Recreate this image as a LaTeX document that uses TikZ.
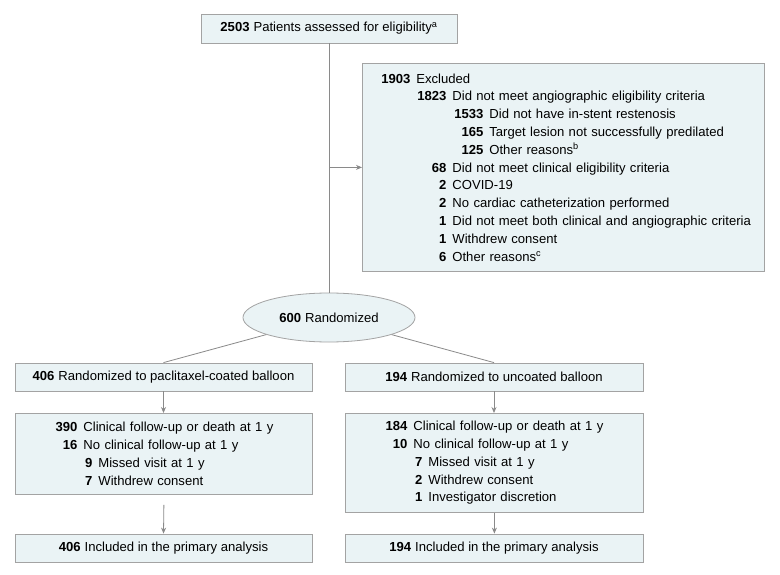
\documentclass[tikz,border=0pt]{standalone}
\usepackage{fontspec}
\setmainfont{Liberation Sans}
\usepackage{tikz}
\usetikzlibrary{shapes.geometric}
\usetikzlibrary{arrows.meta}
\usetikzlibrary{positioning}

\definecolor{boxfill}{HTML}{EAF3F5}
\definecolor{boxline}{HTML}{A3A3A3}
\definecolor{linkline}{HTML}{8A8A8A}

\newcommand{\cnt}[3]{\makebox[#1][r]{\textbf{#2}}\hspace{6pt}#3}

\tikzset{
	every node/.style={font=\fontsize{13.1}{17.8}\selectfont},
	flowbox/.style={draw=boxline, fill=boxfill, line width=0.8pt, inner sep=0pt, minimum height=28pt},
	listbox/.style={flowbox, align=left, anchor=north west},
	link/.style={draw=linkline, line width=0.8pt},
	arr/.style={link, -{Stealth[length=6pt,width=5pt]}}
}

\begin{document}
\begin{tikzpicture}[x=1pt, y=-1pt]
			\useasboundingbox[fill=white] (0,0) rectangle (780,575);
			\node[flowbox, minimum width=256pt, minimum height=29pt] (assess) at (329,28.5) {\textbf{2503}\hspace{4pt}Patients assessed for eligibility\textsuperscript{a}};
			\node[listbox, text width=402pt, minimum height=208pt] (excl) at (362,63) {
				\cnt{48pt}{1903}{Excluded}\\
				\cnt{84pt}{1823}{Did not meet angiographic eligibility criteria}\\
				\cnt{121pt}{1533}{Did not have in-stent restenosis}\\
				\cnt{121pt}{165}{Target lesion not successfully predilated}\\
				\cnt{121pt}{125}{Other reasons\textsuperscript{b}}\\
				\cnt{84pt}{68}{Did not meet clinical eligibility criteria}\\
				\cnt{84pt}{2}{COVID-19}\\
				\cnt{84pt}{2}{No cardiac catheterization performed}\\
				\cnt{84pt}{1}{Did not meet both clinical and angiographic criteria}\\
				\cnt{84pt}{1}{Withdrew consent}\\
				\cnt{84pt}{6}{Other reasons\textsuperscript{c}}
			};
			\node[ellipse, draw=boxline, fill=boxfill, line width=0.8pt, inner sep=0pt, minimum width=172pt, minimum height=49pt] (rand) at (329,317.5) {\textbf{600}\hspace{4pt}Randomized};
			\node[flowbox, minimum width=297pt] (pcb) at (163.5,377) {\textbf{406}\hspace{4pt}Randomized to paclitaxel-coated balloon};
			\node[flowbox, minimum width=298pt] (ucb) at (494,377) {\textbf{194}\hspace{4pt}Randomized to uncoated balloon};
			\node[listbox, text width=297pt, minimum height=81pt] (fu1) at (15,413) {
				\cnt{62pt}{390}{Clinical follow-up or death at 1 y}\\
				\cnt{62pt}{16}{No clinical follow-up at 1 y}\\
				\cnt{77pt}{9}{Missed visit at 1 y}\\
				\cnt{77pt}{7}{Withdrew consent}
			};
			\node[listbox, text width=298pt, minimum height=99pt] (fu2) at (345,413) {
				\cnt{62pt}{184}{Clinical follow-up or death at 1 y}\\
				\cnt{62pt}{10}{No clinical follow-up at 1 y}\\
				\cnt{77pt}{7}{Missed visit at 1 y}\\
				\cnt{77pt}{2}{Withdrew consent}\\
				\cnt{77pt}{1}{Investigator discretion}
			};
			\node[flowbox, minimum width=297pt] (inc1) at (163.5,548) {\textbf{406}\hspace{4pt}Included in the primary analysis};
			\node[flowbox, minimum width=298pt] (inc2) at (494,548) {\textbf{194}\hspace{4pt}Included in the primary analysis};
			\coordinate (split) at (assess.south |- excl.west);
			\draw[link] (assess.south) -- (rand.north);
			\draw[arr] (split) -- (excl.west);
			\draw[link] (rand) -- (pcb.north);
			\draw[link] (rand) -- (ucb.north);
			\draw[arr] (pcb.south) -- (pcb.south |- fu1.north);
			\draw[arr] (ucb.south) -- (ucb.south |- fu2.north);
			\draw[arr] ([yshift=-10pt]fu1.south) -- (inc1.north);
			\draw[arr] (fu2.south) -- (fu2.south |- inc2.north);
		\end{tikzpicture}
\end{document}
